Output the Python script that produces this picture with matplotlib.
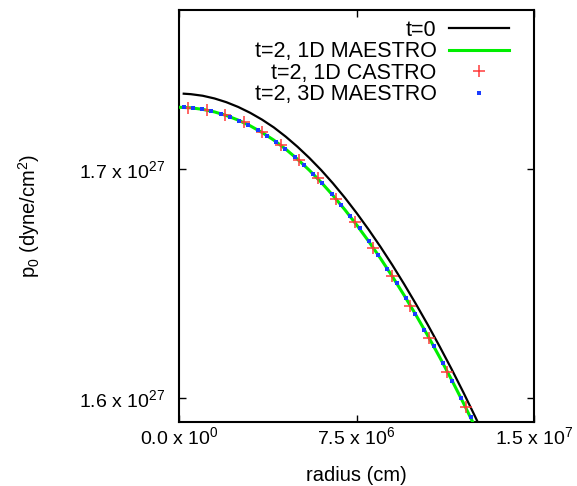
import numpy as np
import matplotlib
matplotlib.use('Agg')
import matplotlib.pyplot as plt

plt.rcParams['font.family'] = ['Liberation Sans', 'DejaVu Sans']
plt.rcParams['mathtext.fontset'] = 'custom'
plt.rcParams['mathtext.rm'] = 'Liberation Sans'
plt.rcParams['mathtext.it'] = 'Liberation Sans:italic'

# ---- Data (radius in 1e6 cm, pressure in 1e27 dyne/cm^2) ----
r_t0 = [0.2, 0.5, 1.0, 1.5, 2.0, 2.5, 3.0, 3.5, 4.0, 4.5, 5.0, 5.5, 6.0, 6.5,
        7.0, 7.5, 8.0, 8.5, 9.0, 9.5, 10.0, 10.5, 11.0, 11.5, 12.0, 12.5, 12.8]
p_t0 = [1.73289, 1.73268, 1.73199, 1.73080, 1.72917, 1.72709, 1.72456, 1.72159,
        1.71817, 1.71417, 1.70972, 1.70484, 1.69952, 1.69371, 1.68745, 1.68072,
        1.67358, 1.66604, 1.65810, 1.64973, 1.64100, 1.63194, 1.62247, 1.61266,
        1.60245, 1.59179, 1.58521]

r_maestro1d = [0.05, 0.5, 1.0, 1.5, 2.0, 2.5, 3.0, 3.5, 4.0, 4.5, 5.0, 5.5, 6.0,
               6.5, 7.0, 7.5, 8.0, 8.5, 9.0, 9.5, 10.0, 10.5, 11.0, 11.5, 12.0,
               12.5, 12.8]
p_maestro1d = [1.72694, 1.72672, 1.72605, 1.72493, 1.72336, 1.72135, 1.71889,
               1.71598, 1.71262, 1.70869, 1.70430, 1.69947, 1.69419, 1.68842,
               1.68221, 1.67554, 1.66847, 1.66100, 1.65312, 1.64484, 1.63620,
               1.62720, 1.61780, 1.60803, 1.59786, 1.58725, 1.58071]

r_castro = [0.391, 1.172, 1.953, 2.734, 3.516, 4.297, 5.078, 5.859,
            6.641, 7.422, 8.203, 8.984, 9.766, 10.547, 11.328, 12.109]
p_castro = [1.72664, 1.72555, 1.72358, 1.72052, 1.71616, 1.71048, 1.70393, 1.69607,
            1.68690, 1.67686, 1.66550, 1.65328, 1.64017, 1.62620, 1.61135, 1.59607]

r_maestro3d = [0.195, 0.586, 0.977, 1.367, 1.758, 2.148, 2.539, 2.930,
               3.320, 3.711, 4.102, 4.492, 4.883, 5.273, 5.664, 6.055,
               6.445, 6.836, 7.227, 7.617, 8.008, 8.398, 8.789, 9.180,
               9.570, 9.961, 10.352, 10.742, 11.133, 11.523, 11.914, 12.305]
p_maestro3d = [1.72690, 1.72664, 1.72607, 1.72528, 1.72419, 1.72279, 1.72118, 1.71926,
               1.71707, 1.71463, 1.71188, 1.70886, 1.70537, 1.70183, 1.69799, 1.69367,
               1.68930, 1.68445, 1.67952, 1.67415, 1.66843, 1.66258, 1.65646, 1.65017,
               1.64367, 1.63681, 1.62983, 1.62253, 1.61511, 1.60764, 1.59987, 1.59183]

x_ticks = [0.0, 7.5e6, 1.5e7]
x_ticklabels = ['0.0 x 10$^{0}$', '7.5 x 10$^{6}$', '1.5 x 10$^{7}$']
y_ticks = [1.6e27, 1.7e27]
y_ticklabels = ['1.6 x 10$^{27}$', '1.7 x 10$^{27}$']

R_UNIT = 1e6
P_UNIT = 1e27

fig = plt.figure(figsize=(5.77, 4.86), dpi=100)
ax = fig.add_axes([0.3102, 0.1317, 0.6161, 0.8477])

ax.plot(np.array(r_t0) * R_UNIT, np.array(p_t0) * P_UNIT,
        color='black', lw=1.6, label='t=0', zorder=2)
ax.plot(np.array(r_maestro1d) * R_UNIT, np.array(p_maestro1d) * P_UNIT,
        color='#00ee00', lw=2.2, label='t=2, 1D MAESTRO', zorder=3)
ax.plot(np.array(r_castro) * R_UNIT, np.array(p_castro) * P_UNIT,
        ls='none', marker='+', ms=9, mew=1.1, color='#ff3a3a',
        label='t=2, 1D CASTRO', zorder=4)
ax.plot(np.array(r_maestro3d) * R_UNIT, np.array(p_maestro3d) * P_UNIT,
        ls='none', marker='s', ms=2.3, mew=0, color='#1a3cff',
        label='t=2, 3D MAESTRO', zorder=5)

ax.set_xlim(0, 1.5e7)
ax.set_ylim(1.58952e27, 1.76943e27)
ax.set_xticks(x_ticks)
ax.set_xticklabels(x_ticklabels, fontsize=14)
ax.set_yticks(y_ticks)
ax.set_yticklabels(y_ticklabels, fontsize=14)
ax.tick_params(direction='in', top=True, right=True, length=5,
               width=1.0, pad=3)
ax.tick_params(axis='y', pad=10)
for s in ax.spines.values():
    s.set_linewidth(1.5)

ax.set_xlabel('radius (cm)', fontsize=14.5, va='top')
ax.xaxis.set_label_coords(0.5, -0.108)
ax.set_ylabel('p$_0$ (dyne/cm$^2$)', fontsize=14.5)
ax.yaxis.set_label_coords(-0.385, 0.5)

ax.legend(loc='upper right', frameon=False, markerfirst=False,
          fontsize=15.5, handlelength=2.8, handletextpad=0.56,
          labelspacing=0.02, borderaxespad=0, numpoints=1,
          bbox_to_anchor=(0.952, 0.997))

fig.savefig('out.png', dpi=100)
